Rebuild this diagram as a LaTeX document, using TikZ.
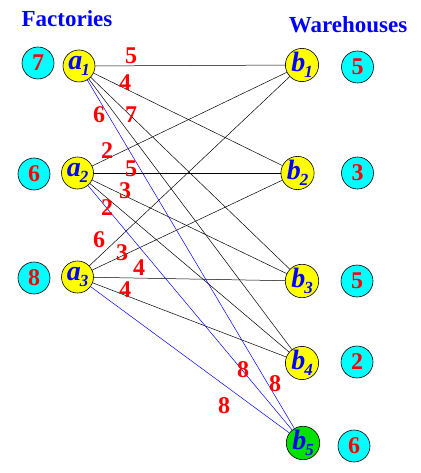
\documentclass[tikz,border=0pt]{standalone}
\usepackage{fontspec}
\setmainfont{Liberation Serif}
\definecolor{aqua}{RGB}{0,255,255}
\definecolor{yel}{RGB}{255,255,0}
\definecolor{grn}{RGB}{0,225,0}
\definecolor{rd}{RGB}{255,0,0}
\definecolor{bl}{RGB}{0,0,255}
\begin{document}
\begin{tikzpicture}[x=1pt,y=-1pt,
  every node/.style={inner sep=0pt},
  cnode/.style={circle,draw=black,line width=0.6pt,minimum size=32pt},
  supply/.style={cnode,fill=aqua,text=rd,font=\bfseries\fontsize{24}{24}\selectfont},
  fac/.style={cnode,fill=yel,text=bl,font=\bfseries\itshape},
  whs/.style={cnode,fill=yel,text=bl,font=\bfseries\itshape},
  cost/.style={text=rd,font=\bfseries\fontsize{24}{24}\selectfont},
  title/.style={text=bl,font=\bfseries\fontsize{23}{23}\selectfont},
  edge/.style={black,line width=0.5pt},
  bedge/.style={bl,line width=0.5pt}]
\useasboundingbox (0,0) rectangle (420,473);
\newcommand{\lab}[2]{{\fontsize{28}{28}\selectfont #1}\kern-1pt\raisebox{-6pt}{\fontsize{17}{17}\selectfont #2}}
\node[title] (tf) at (67,19) {Factories};
\node[title] (tw) at (348,25) {Warehouses};
\node[supply] (s1) at (38,63) {7};
\node[supply] (s2) at (34,174) {6};
\node[supply] (s3) at (34,278) {8};
\node[fac] (a1) at (79,66) {\lab{a}{1}};
\node[fac] (a2) at (77.5,173) {\lab{a}{2}};
\node[fac] (a3) at (77.5,277) {\lab{a}{3}};
\node[whs] (b1) at (302,65) {\lab{b}{1}};
\node[whs] (b2) at (297.5,173) {\lab{b}{2}};
\node[whs] (b3) at (302,281) {\lab{b}{3}};
\node[whs] (b4) at (302,363) {\lab{b}{4}};
\node[whs,fill=grn] (b5) at (303,443) {\lab{b}{5}};
\node[supply] (d1) at (357.5,67) {5};
\node[supply] (d2) at (357.5,173) {3};
\node[supply] (d3) at (357,281) {5};
\node[supply] (d4) at (357,362) {2};
\node[supply] (d5) at (354,446) {6};
\foreach \i in {1,2,3}{\foreach \j in {1,2,3,4}{\draw[edge] (a\i) -- (b\j);}}
\foreach \i in {1,2,3}{\draw[bedge] (a\i) -- (b5);}
\node[cost] (c11) at (131,56) {5};
\node[cost] (c12) at (125,83) {4};
\node[cost] (c14) at (99,115) {6};
\node[cost] (c13) at (131,115) {7};
\node[cost] (c21) at (107,151) {2};
\node[cost] (c22) at (131,169) {5};
\node[cost] (c23) at (125,191) {3};
\node[cost] (c24) at (107,208) {2};
\node[cost] (c31) at (99,240) {6};
\node[cost] (c32) at (122,253) {3};
\node[cost] (c33) at (139,268) {4};
\node[cost] (c34) at (125,290) {4};
\node[cost] (c15) at (275,384) {8};
\node[cost] (c25) at (243,370) {8};
\node[cost] (c35) at (224,406) {8};
\end{tikzpicture}
\end{document}
